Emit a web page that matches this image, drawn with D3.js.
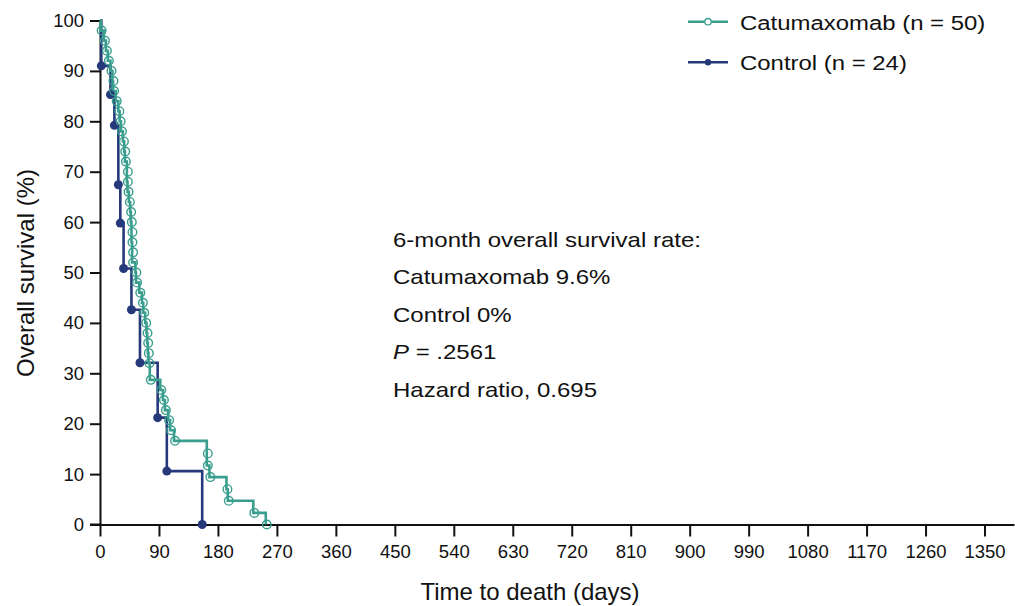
<!DOCTYPE html>
<html>
<head>
<meta charset="utf-8">
<script src="https://cdn.jsdelivr.net/npm/d3@7"></script>
<style>
  body { margin: 0; background: #fff; }
  text { font-family: "Liberation Sans", Arial, sans-serif; fill: #111; }
</style>
</head>
<body>
<div id="chart"></div>
<script>
// Kaplan-Meier data (days, survival %)
var catDays = [1, 6, 9, 12, 16, 19, 20, 24, 28, 30, 32, 35, 37, 38, 41, 41, 42, 44, 46, 47,
               48, 48, 49, 49, 54, 55, 60, 64, 66, 69, 71, 72, 73, 74, 76, 92, 96, 99, 104, 107,
               113, 163, 163, 167, 193, 195, 234, 253];
var catSurv = [98, 96, 94, 92, 90, 88, 86, 84, 82, 80, 78, 76, 74, 72, 70, 68, 66, 64, 62, 60,
               58, 56, 54, 52, 50, 48, 46, 44, 42, 40, 38, 36, 34, 32, 28.7, 26.7, 24.7, 22.7, 20.7, 18.7,
               16.6, 14.1, 11.7, 9.4, 7.0, 4.7, 2.3, 0];
var ctlDays = [2, 16, 22, 28, 31, 36, 48, 61, 88, 102, 156];
var ctlSurv = [91.0, 85.3, 79.2, 67.4, 59.8, 50.8, 42.6, 32.1, 21.2, 10.6, 0];

var xTicks = d3.range(0, 1351, 90);
var yTicks = d3.range(0, 101, 10);
var legendLabels = ["Catumaxomab (n = 50)", "Control (n = 24)"];
var noteLines = ["6-month overall survival rate:", "Catumaxomab 9.6%", "Control 0%", "P = .2561", "Hazard ratio, 0.695"];

var teal = "#3a9e8e";
var navy = "#26397a";

var svg = d3.select("#chart").append("svg")
    .attr("width", 1015)
    .attr("height", 606);

var x = d3.scaleLinear().domain([0, 1395]).range([100, 1014]);
var y = d3.scaleLinear().domain([0, 100]).range([524.5, 20.5]);

//axes
var xAxis = svg.append("g")
    .attr("transform", "translate(0,524.5)")
    .call(d3.axisBottom(x).tickValues(xTicks).tickFormat(d3.format("d"))
        .tickSize(12).tickSizeOuter(0).tickPadding(8));
var yAxis = svg.append("g")
    .attr("transform", "translate(100,0)")
    .call(d3.axisLeft(y).tickValues(yTicks).tickFormat(d3.format("d"))
        .tickSize(10).tickSizeOuter(0).tickPadding(6));

[xAxis, yAxis].forEach(function(g){
    g.select(".domain").attr("stroke", "#111").attr("stroke-width", 2);
    g.selectAll(".tick line").attr("stroke", "#111").attr("stroke-width", 2);
    g.selectAll(".tick text").attr("font-size", 18.5).attr("font-family", "Liberation Sans, Arial, sans-serif").attr("fill", "#111");
});
// extend x axis left under the y ticks
svg.append("line").attr("x1", 90).attr("x2", 100).attr("y1", 524.5).attr("y2", 524.5)
    .attr("stroke", "#111").attr("stroke-width", 2);

//axis titles
svg.append("text")
    .attr("x", 530).attr("y", 600)
    .attr("text-anchor", "middle")
    .attr("font-size", 24)
    .text("Time to death (days)");
svg.append("text")
    .attr("transform", "translate(34,273) rotate(-90)")
    .attr("text-anchor", "middle")
    .attr("font-size", 24)
    .text("Overall survival (%)");

//step curves
function pts(days, surv){
    var p = [[0, 100]];
    days.forEach(function(d, i){ p.push([d, surv[i]]); });
    return p;
}
var line = d3.line()
    .x(function(d){ return x(d[0]); })
    .y(function(d){ return y(d[1]); })
    .curve(d3.curveStepAfter);

svg.append("path").datum(pts(ctlDays, ctlSurv))
    .attr("d", line).attr("fill", "none")
    .attr("stroke", navy).attr("stroke-width", 2.6);
svg.append("path").datum(pts(catDays, catSurv))
    .attr("d", line).attr("fill", "none")
    .attr("stroke", teal).attr("stroke-width", 2.6);

svg.selectAll(".ctl").data(ctlDays).enter().append("circle")
    .attr("cx", function(d){ return x(d); })
    .attr("cy", function(d, i){ return y(ctlSurv[i]); })
    .attr("r", 4.5).attr("fill", navy);

svg.selectAll(".cat").data(catDays).enter().append("circle")
    .attr("cx", function(d){ return x(d) + 1; })
    .attr("cy", function(d, i){ return y(catSurv[i]); })
    .attr("r", 4.3).attr("fill", "none")
    .attr("stroke", teal).attr("stroke-width", 1.4);

//legend
var colors = [teal, navy];
legendLabels.forEach(function(t, i){
    var ly = 21.7 + i * 40.6;
    svg.append("line").attr("x1", 688).attr("x2", 728).attr("y1", ly).attr("y2", ly)
        .attr("stroke", colors[i]).attr("stroke-width", 2.6);
    var c = svg.append("circle").attr("cx", 708).attr("cy", ly).attr("r", 3.2);
    if(i == 0){
        c.attr("fill", "#fff").attr("stroke", teal).attr("stroke-width", 1.3);
    } else {
        c.attr("fill", navy);
    }
    svg.append("text")
        .attr("transform", "translate(740," + (ly + 8) + ") scale(1.14,1)")
        .attr("font-size", 21)
        .text(t);
});

//annotation
noteLines.forEach(function(t, i){
    var tx = svg.append("text")
        .attr("transform", "translate(393," + (247 + i * 37.4) + ") scale(1.2,1)")
        .attr("font-size", 20);
    if(t.indexOf("P =") == 0){
        tx.append("tspan").attr("font-style", "italic").text("P");
        tx.append("tspan").text(t.slice(1));
    } else {
        tx.text(t);
    }
});
</script>
</body>
</html>
